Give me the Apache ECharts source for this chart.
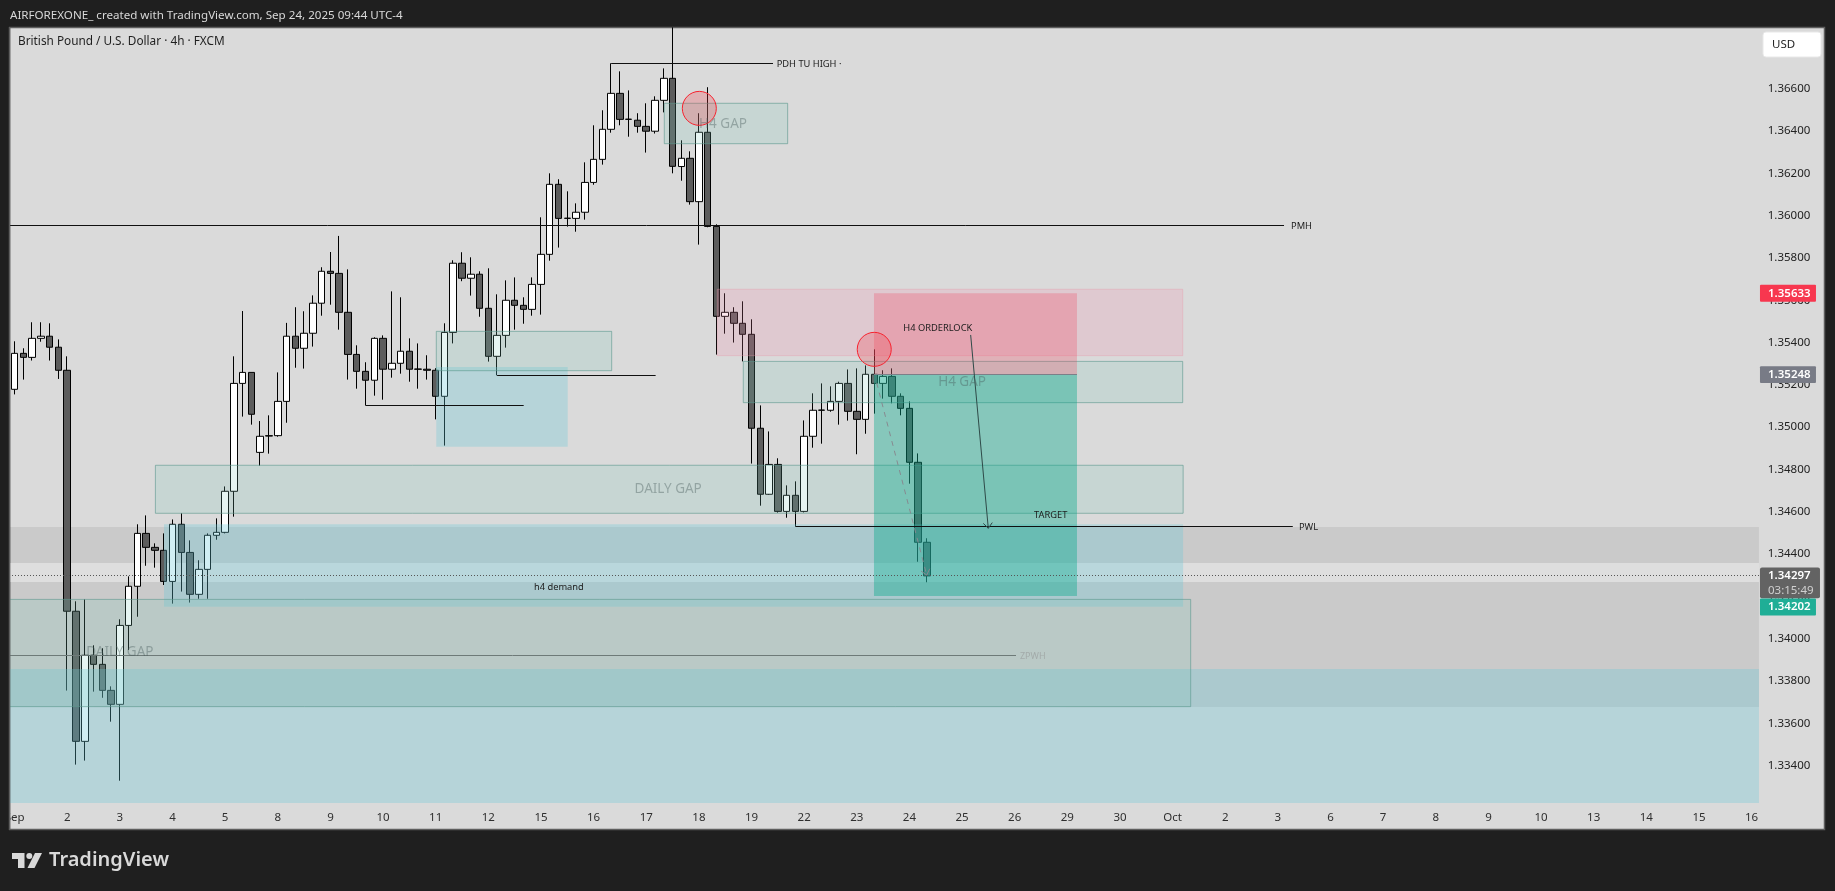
<!DOCTYPE html>
<html><head><meta charset="utf-8">
<style>html,body{margin:0;padding:0;background:#1f1f1f;overflow:hidden}#c{width:1835px;height:891px}</style>
<script src="https://cdn.jsdelivr.net/npm/echarts@6/dist/echarts.min.js"></script>
</head><body><div id="c"></div>
<script>
// ---- candle values (4h bars, bar 0 = Sep 1) ----
const opens=[1.35179,1.35349,1.35330,1.35420,1.35430,1.35378,1.35269,1.34130,1.33515,1.33922,
1.33879,1.33756,1.33690,1.34063,1.34248,1.34498,1.34432,1.34418,1.34271,1.34541,
1.34408,1.34210,1.34328,1.34489,1.34503,1.34697,1.35207,1.35259,1.34881,1.34958,
1.34960,1.35122,1.35430,1.35373,1.35444,1.35586,1.35737,1.35727,1.35543,1.35344,
1.35264,1.35222,1.35420,1.35274,1.35302,1.35359,1.35275,1.35274,1.35269,1.35146,
1.35448,1.35775,1.35704,1.35723,1.35562,1.35335,1.35434,1.35600,1.35576,1.35557,
1.35675,1.35817,1.36148,1.35987,1.35987,1.36016,1.36157,1.36266,1.36408,1.36578,
1.36455,1.36451,1.36422,1.36399,1.36545,1.36649,1.36232,1.36271,1.36066,1.36394,
1.35949,1.35524,1.35543,1.35491,1.35439,1.34995,1.34683,1.34824,1.34602,1.34678,
1.34602,1.34957,1.35080,1.35080,1.35122,1.35207,1.35075,1.35037,1.35250,1.35207,
1.35240,1.35146,1.35089,1.34834,1.34456];
const closes=[1.35349,1.35330,1.35420,1.35430,1.35378,1.35269,1.34130,1.33515,1.33922,1.33879,
1.33756,1.33690,1.34063,1.34248,1.34498,1.34432,1.34418,1.34271,1.34541,1.34408,
1.34210,1.34328,1.34489,1.34503,1.34697,1.35207,1.35259,1.35061,1.34957,1.34960,
1.35122,1.35430,1.35373,1.35444,1.35586,1.35737,1.35727,1.35543,1.35344,1.35264,
1.35222,1.35420,1.35274,1.35302,1.35359,1.35274,1.35274,1.35269,1.35146,1.35448,
1.35775,1.35704,1.35723,1.35562,1.35335,1.35434,1.35600,1.35576,1.35557,1.35675,
1.35817,1.36148,1.35987,1.35988,1.36016,1.36157,1.36266,1.36408,1.36578,1.36455,
1.36456,1.36422,1.36399,1.36545,1.36649,1.36233,1.36271,1.36066,1.36394,1.35949,
1.35524,1.35543,1.35491,1.35439,1.34995,1.34683,1.34824,1.34602,1.34678,1.34602,
1.34957,1.35080,1.35081,1.35122,1.35207,1.35075,1.35037,1.35250,1.35207,1.35240,
1.35146,1.35089,1.34834,1.34456,1.34297];
const lows=[1.35155,1.35225,1.35315,1.35404,1.35315,1.35228,1.33755,1.33405,1.33424,1.33750,
1.33721,1.33608,1.33329,1.33947,1.34104,1.34345,1.34336,1.34254,1.34166,1.34223,
1.34171,1.34189,1.34189,1.34468,1.34498,1.34577,1.35050,1.35012,1.34818,1.34875,
1.34955,1.35021,1.35281,1.35277,1.35381,1.35527,1.35579,1.35461,1.35225,1.35182,
1.35103,1.35149,1.35130,1.35234,1.35253,1.35215,1.35182,1.35225,1.35037,1.34913,
1.35396,1.35690,1.35622,1.35522,1.35310,1.35245,1.35376,1.35461,1.35489,1.35527,
1.35532,1.35787,1.35849,1.35948,1.35924,1.35981,1.36146,1.36241,1.36392,1.36427,
1.36373,1.36392,1.36298,1.36388,1.36488,1.36200,1.36165,1.36052,1.35863,1.35945,
1.35343,1.35442,1.35400,1.35311,1.34828,1.34629,1.34680,1.34596,1.34572,1.34531,
1.34597,1.34903,1.34922,1.35073,1.35012,1.35031,1.34872,1.34969,1.35064,1.35135,
1.35113,1.35056,1.34733,1.34364,1.34267];
const highs=[1.35406,1.35373,1.35496,1.35496,1.35491,1.35415,1.35335,1.34177,1.34186,1.33969,
1.33955,1.33775,1.34092,1.34295,1.34541,1.34583,1.34451,1.34498,1.34564,1.34593,
1.34465,1.34371,1.34498,1.34569,1.34720,1.35335,1.35549,1.35259,1.35029,1.35056,
1.35259,1.35493,1.35567,1.35548,1.35623,1.35756,1.35828,1.35904,1.35746,1.35387,
1.35307,1.35425,1.35434,1.35642,1.35614,1.35420,1.35396,1.35340,1.35279,1.35491,
1.35789,1.35827,1.35803,1.35737,1.35751,1.35628,1.35694,1.35708,1.35614,1.35708,
1.35992,1.36200,1.36172,1.36115,1.36058,1.36252,1.36427,1.36498,1.36720,1.36682,
1.36592,1.36484,1.36531,1.36564,1.36696,1.36890,1.36356,1.36304,1.36484,1.36607,
1.35959,1.35633,1.35567,1.35595,1.35510,1.35103,1.34980,1.34853,1.34725,1.34744,
1.35032,1.35160,1.35207,1.35193,1.35215,1.35273,1.35278,1.35292,1.35368,1.35269,
1.35278,1.35160,1.35122,1.34876,1.34475];

// ---- axis values ----
const dayTickText=["Sep","2","3","4","5","8","9","10","11","12","15","16","17","18","19","22","23","24","25","26","29","30","Oct","2","3","6","7","8","9","10","13","14","15","16"];
const barsPerDay=6;
const priceTicks=[1.334,1.336,1.338,1.340,1.342,1.344,1.346,1.348,1.350,1.352,1.354,1.356,1.358,1.360,1.362,1.364,1.366];
const leftEdge=-0.64, rightEdge=198.84; // in bar units
const priceMin=1.332236, priceMax=1.368916;

// ---- drawings, in bar units and prices: [x0,x1,top,bottom] ----
const bandZones=[[leftEdge,rightEdge,1.34528,1.33677]];
const lightZones=[[leftEdge,rightEdge,1.34358,1.34268]];
const blueZones=[[leftEdge,rightEdge,1.33857,priceMin],[17.03,133.2,1.34541,1.34151],[48.07,63.05,1.35285,1.34908]];
const gapZones=[[16.05,133.2,1.34820,1.34593],[leftEdge,134.06,1.34186,1.33679],[74.06,88.12,1.36531,1.36340],[83.06,133.15,1.35311,1.35116],[48.07,68.06,1.35453,1.35267]];
const pinkZones=[[80.1,133.15,1.35652,1.35338]];
const stopZones=[[97.96,121.1,1.35633,1.35248]];
const targetZones=[[97.96,121.1,1.35248,1.34202]];
// lines: [x0,x1,price]
const blackLines=[[leftEdge,144.7,1.35952],[68,86.45,1.36720],[55,73.07,1.35245],[40,58.03,1.35103],[89,145.7,1.34531]];
const greyLines=[[leftEdge,114.15,1.33920]];
const priceLine=[[leftEdge,rightEdge,1.34297]];
const entryLine=[[97.96,121.1,1.35248]];
const circles=[[78.05,1.36507],[97.99,1.35368]];
const solidArrows=[[108.98,1.35436,110.99,1.34522]];
const dashedArrows=[[98.27,1.35209,103.97,1.34301]];
// text labels: [x,price]
const smallTexts=["PDH TU HIGH ·","PMH","PWL","h4 demand","H4 ORDERLOCK","TARGET"];
const smallTextPos=[[86.87,1.36720],[145.5,1.35952],[146.4,1.34531],[59.2,1.34246],[101.3,1.35469],[116.2,1.34586]];
const faintTexts=["ZPWH"];
const faintTextPos=[[114.6,1.33920]];
const gapTexts=["DAILY GAP","DAILY GAP","H4 GAP","H4 GAP"];
const gapTextPos=[[74.5,1.34712],[12.0,1.33939],[80.75,1.36438],[108,1.35218]];
// right-hand price tags
const tagPrices=[1.35633,1.35248,1.34297,1.34202];
const tagTexts=["1.35633","1.35248","1.34297","1.34202"];
const countdownText="03:15:49";

// ---- styles ----
const FONT='"Noto Sans","Open Sans",sans-serif';
const tagFill=['#f7374f','#787b86','#636363','#1fae96'];
const tagShift=[0,0,0,11];

const cats=[];for(let i=-1;i<200;i++)cats.push(String(i));
const candleData=cats.map((c,k)=>{const i=k-1;return (i>=0&&i<opens.length)?[opens[i],closes[i],lows[i],highs[i]]:'-';});

function px(api,x,y){return api.coord([x,y]);}
function zoneSeries(rows,fill,stroke,z){
  return {type:'custom',coordinateSystem:'cartesian2d',xAxisIndex:1,yAxisIndex:0,z,silent:true,clip:true,
    data:rows,encode:{x:[0,1],y:[2,3]},
    renderItem(p,api){
      const a=px(api,api.value(0),api.value(2)),b=px(api,api.value(1),api.value(3));
      const shape={x:a[0],y:a[1],width:b[0]-a[0],height:b[1]-a[1]};
      return {type:'rect',shape,style:{fill,stroke:stroke||null,lineWidth:stroke?1:0}};
    }};
}
function lineSeries(rows,stroke,width,dash,z){
  return {type:'custom',coordinateSystem:'cartesian2d',xAxisIndex:1,yAxisIndex:0,z,silent:true,clip:true,
    data:rows,encode:{x:[0,1],y:2},
    renderItem(p,api){
      const a=px(api,api.value(0),api.value(2)),b=px(api,api.value(1),api.value(2));
      const y=Math.floor(a[1])+.5;
      return {type:'line',shape:{x1:a[0],y1:y,x2:b[0],y2:y},style:{stroke,lineWidth:width,lineDash:dash||null}};
    }};
}
function textSeries(texts,pos,font,fill,align,z){
  return {type:'custom',coordinateSystem:'cartesian2d',xAxisIndex:1,yAxisIndex:0,z,silent:true,clip:false,
    data:pos,encode:{x:0,y:1},
    renderItem(p,api){
      const a=px(api,api.value(0),api.value(1));
      return {type:'text',x:a[0],y:a[1]+.8,style:{text:texts[p.dataIndex],font,fill,align,verticalAlign:'middle'}};
    }};
}
function arrowSeries(rows,stroke,dash,head,z){
  return {type:'custom',coordinateSystem:'cartesian2d',xAxisIndex:1,yAxisIndex:0,z,silent:true,clip:true,
    data:rows,encode:{x:[0,2],y:[1,3]},
    renderItem(p,api){
      const a=px(api,api.value(0),api.value(1)),b=px(api,api.value(2),api.value(3));
      const ang=Math.atan2(b[1]-a[1],b[0]-a[0]);
      const h=d=>[b[0]-head*Math.cos(ang+d),b[1]-head*Math.sin(ang+d)];
      const h1=h(.7),h2=h(-.7);
      return {type:'group',children:[
        {type:'line',shape:{x1:a[0],y1:a[1],x2:b[0],y2:b[1]},style:{stroke,lineWidth:1,lineDash:dash||null}},
        {type:'polyline',shape:{points:[h1,b,h2]},style:{stroke,lineWidth:1,fill:null}}
      ]};
    }};
}

const chart=echarts.init(document.getElementById('c'),null,{renderer:'canvas',width:1835,height:891});
chart.setOption({
  animation:false,
  backgroundColor:'#1f1f1f',
  grid:{left:1.44,right:70.23,top:27,bottom:88,containLabel:false},
  xAxis:[
    {type:'category',data:cats,boundaryGap:true,
     axisLine:{show:false},axisTick:{show:false},splitLine:{show:false},
     axisLabel:{show:true,color:'#2f2f2f',fontFamily:FONT,fontSize:11.5,margin:9,hideOverlap:false,
       interval:(k)=>((k-1)>=0&&(k-1)%barsPerDay===0),
       formatter:(v,k)=>dayTickText[(+v)/barsPerDay]||''}},
    {type:'value',min:-1.5,max:199.5,show:false,splitLine:{show:false},axisLabel:{show:false},axisTick:{show:false},axisLine:{show:false}}
  ],
  yAxis:{type:'value',position:'right',min:priceMin,max:priceMax,scale:true,
    axisLine:{show:false},axisTick:{show:false},splitLine:{show:false},
    axisLabel:{customValues:priceTicks,color:'#222',fontFamily:FONT,fontSize:11.5,margin:3,formatter:v=>v.toFixed(5)}},
  series:[
    zoneSeries(bandZones,'rgba(0,0,0,0.07)',null,1),
    zoneSeries(lightZones,'rgba(255,255,255,0.38)',null,1),
    {type:'candlestick',name:'GBPUSD',xAxisIndex:0,yAxisIndex:0,data:candleData,barWidth:7,z:2,silent:true,clip:true,
      itemStyle:{color:'#ffffff',color0:'#5c5c5c',borderColor:'#000',borderColor0:'#000',borderWidth:1}},
    zoneSeries(blueZones,'rgba(98,198,215,0.3)',null,3),
    zoneSeries(gapZones,'rgba(123,198,183,0.2)','rgba(90,150,140,0.6)',3),
    zoneSeries(pinkZones,'rgba(243,133,168,0.2)','rgba(235,150,165,0.35)',3),
    zoneSeries(stopZones,'rgba(243,57,84,0.25)',null,3),
    zoneSeries(targetZones,'rgba(8,170,140,0.40)',null,3),
    lineSeries(blackLines,'#101010',1,null,4),
    lineSeries(greyLines,'#6e7a78',1,null,4),
    lineSeries(priceLine,'#555',1,[1,2],4),
    lineSeries(entryLine,'#7c7f88',1,null,4),
    arrowSeries(solidArrows,'#2e4a48',null,7,5),
    arrowSeries(dashedArrows,'#868a90',[5,5],7,5),
    {type:'custom',coordinateSystem:'cartesian2d',xAxisIndex:1,yAxisIndex:0,z:5,silent:true,data:circles,encode:{x:0,y:1},
      renderItem(p,api){const a=px(api,api.value(0),api.value(1));
        return {type:'circle',shape:{cx:a[0],cy:a[1],r:17},style:{fill:'rgba(242,54,69,0.25)',stroke:'#f7222e',lineWidth:1}};}},
    textSeries(smallTexts,smallTextPos,'9.3px '+FONT,'#1c1c1c','left',6),
    textSeries(faintTexts,faintTextPos,'9px '+FONT,'#a3abaa','left',6),
    textSeries(gapTexts,gapTextPos,'13.5px '+FONT,'rgba(70,90,90,0.4)','center',6),
    {type:'custom',coordinateSystem:'cartesian2d',xAxisIndex:1,yAxisIndex:0,z:20,silent:true,clip:false,data:tagPrices.map(v=>[0,v]),encode:{x:0,y:1},
      renderItem(p,api){
        const i=p.dataIndex,c=api.coord([0,api.value(1)]);
        const y=c[1]+tagShift[i],X=p.coordSys.x+p.coordSys.width-4.8;
        if(i===2){
          return {type:'group',children:[
            {type:'rect',shape:{x:X,y:y-8.3,width:60,height:30.7,r:2},style:{fill:tagFill[i]}},
            {type:'text',x:X+8,y:y,style:{text:tagTexts[i],font:'600 11.5px '+FONT,fill:'#fff',align:'left',verticalAlign:'middle'}},
            {type:'text',x:X+8,y:y+14.6,style:{text:countdownText,font:'11.5px '+FONT,fill:'#d0d0d0',align:'left',verticalAlign:'middle'}}
          ]};
        }
        return {type:'group',children:[
          {type:'rect',shape:{x:X,y:y-8.4,width:56,height:16.8,r:1},style:{fill:tagFill[i]}},
          {type:'text',x:X+8,y:y,style:{text:tagTexts[i],font:'600 11.5px '+FONT,fill:'#fff',align:'left',verticalAlign:'middle'}}
        ]};
      }}
  ],
  graphic:{elements:[
    {type:'rect',z:-10,silent:true,shape:{x:9.5,y:27.5,width:1815,height:802},style:{fill:'#dadada',stroke:'#5e5e5e',lineWidth:1.5}},
    {type:'rect',z:30,silent:true,shape:{x:0,y:0,width:9,height:891},style:{fill:'#1f1f1f'}},
    {type:'line',z:31,silent:true,shape:{x1:9.5,y1:27,x2:9.5,y2:830},style:{stroke:'#5e5e5e',lineWidth:1.5}},
    {type:'text',z:31,silent:true,x:10,y:15.5,style:{text:'AIRFOREXONE_ created with TradingView.com, Sep 24, 2025 09:44 UTC-4',font:'11.6px '+FONT,fill:'#d8d8d8',align:'left',verticalAlign:'middle'}},
    {type:'text',z:31,silent:true,x:18,y:41.5,style:{text:'British Pound / U.S. Dollar · 4h · FXCM',font:'11.8px '+FONT,fill:'#1f1f1f',align:'left',verticalAlign:'middle'}},
    {type:'rect',z:31,silent:true,shape:{x:1763,y:32,width:58,height:25,r:3},style:{fill:'#fff',stroke:'#e8e8e8',lineWidth:1}},
    {type:'text',z:32,silent:true,x:1772,y:44.5,style:{text:'USD',font:'11.5px '+FONT,fill:'#1f1f1f',align:'left',verticalAlign:'middle'}},
    {type:'polygon',z:31,silent:true,shape:{points:[[12,853],[24.5,853],[24.5,868],[18,868],[18,859],[12,859]]},style:{fill:'#d9d9d9'}},
    {type:'circle',z:31,silent:true,shape:{cx:29.3,cy:856,r:3},style:{fill:'#d9d9d9'}},
    {type:'polygon',z:31,silent:true,shape:{points:[[35,853],[42,853],[34.5,868],[27.5,868]]},style:{fill:'#d9d9d9'}},
    {type:'text',z:31,silent:true,x:49,y:860,style:{text:'TradingView',font:'600 20px '+FONT,fill:'#d9d9d9',align:'left',verticalAlign:'middle'}}
  ]}
});
</script></body></html>
